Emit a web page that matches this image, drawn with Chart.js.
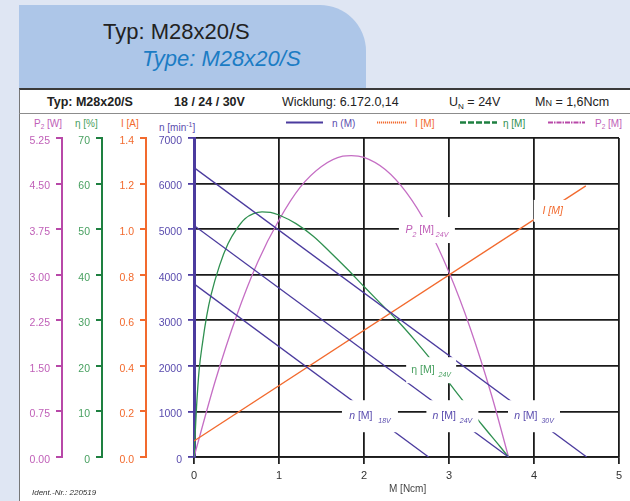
<!DOCTYPE html>
<html>
<head>
<meta charset="utf-8">
<script src="https://cdn.jsdelivr.net/npm/chart.js@4.4.1/dist/chart.umd.min.js"></script>
<style>
html, body { margin: 0; padding: 0; }
body { width: 630px; height: 501px; overflow: hidden; background: #dfe6f3; position: relative;
  font-family: "Liberation Sans", Arial, sans-serif; }
.abs { position: absolute; white-space: nowrap; }
#tab { left: 19px; top: 5px; width: 347px; height: 90px; background: #adc6e8; border-top-right-radius: 46px; }
#panel { left: 19px; top: 88px; width: 620px; height: 420px; background: #fff; border-top: 2px solid #3a3a3a; border-left: 1px solid #777; }
#sep { left: 19px; top: 113px; width: 620px; height: 1px; background: #8c8c8c; }
.t1 { left: 103px; top: 21px; font-size: 22px; line-height: 22px; color: #222; }
.t2 { left: 142px; top: 48px; font-size: 22px; line-height: 22px; color: #1b7cc4; font-style: italic; }
.h { top: 95px; font-size: 12.5px; line-height: 14px; color: #222; }
.b { font-weight: bold; }
.lg { top: 118px; font-size: 10px; line-height: 12px; }
.ax { top: 118px; font-size: 10px; line-height: 12px; }
sub { font-size: 0.65em; vertical-align: -0.35em; line-height: 0; }
canvas { position: absolute; left: 20px; top: 115px; }
</style>
</head>
<body>
<div id="tab" class="abs"></div>
<div class="abs t1">Typ: M28x20/S</div>
<div class="abs t2">Type: M28x20/S</div>
<div id="panel" class="abs"></div>
<div id="sep" class="abs"></div>

<div class="abs h b" style="left:47px">Typ: M28x20/S</div>
<div class="abs h b" style="left:174px">18 / 24 / 30V</div>
<div class="abs h" style="left:282px">Wicklung: 6.172.0,14</div>
<div class="abs h" style="left:449px">U<sub>N</sub> = 24V</div>
<div class="abs h" style="left:535px">M<span style="font-size:9px">N</span> = 1,6Ncm</div>

<svg class="abs" style="left:286px;top:120px" width="37" height="5"><line x1="0" y1="2.5" x2="37" y2="2.5" stroke="#4b3b9e" stroke-width="2"/></svg>
<div class="abs lg" style="left:332px;color:#5a4cae">n (M)</div>
<svg class="abs" style="left:377px;top:120px" width="30" height="5"><line x1="0" y1="2.5" x2="30" y2="2.5" stroke="#f26a2e" stroke-width="2" stroke-dasharray="1.2 0.8"/></svg>
<div class="abs lg" style="left:415px;color:#f26a2e">I [M]</div>
<svg class="abs" style="left:460px;top:120px" width="37" height="5"><line x1="0" y1="2.5" x2="37" y2="2.5" stroke="#1e8040" stroke-width="2.5" stroke-dasharray="6 2"/></svg>
<div class="abs lg" style="left:503px;color:#2f9050">η [M]</div>
<svg class="abs" style="left:548px;top:120px" width="37" height="5"><line x1="0" y1="2.5" x2="37" y2="2.5" stroke="#b848a8" stroke-width="2" stroke-dasharray="5 1 1.5 1"/></svg>
<div class="abs lg" style="left:595px;color:#c060b8">P<sub>2</sub> [M]</div>

<div class="abs ax" style="left:34px;color:#c060b8">P<sub>2</sub> [W]</div>
<div class="abs ax" style="left:75px;color:#48a060">η [%]</div>
<div class="abs ax" style="left:121px;color:#f26a2e">I [A]</div>
<div class="abs ax" style="left:159px;top:119px;color:#5a4cae">n [min<sup style="font-size:7px">-1</sup>]</div>

<canvas id="chart" width="610" height="386"></canvas>

<div class="abs" style="left:389px;top:483px;font-size:10px;line-height:12px;color:#444">M [Ncm]</div>
<div class="abs" style="left:32px;top:488px;font-size:8px;line-height:10px;color:#333;font-style:italic">Ident.-Nr.: 220519</div>

<script>
// tick labels
const xTicks = [0, 1, 2, 3, 4, 5];
const nTicks = [0, 1000, 2000, 3000, 4000, 5000, 6000, 7000];
const iTicks = [0, 0.2, 0.4, 0.6, 0.8, 1.0, 1.2, 1.4];
const etaTicks = [0, 10, 20, 30, 40, 50, 60, 70];
const p2Ticks = [0, 0.75, 1.5, 2.25, 3.0, 3.75, 4.5, 5.25];

// speed lines n(M) for 18 / 24 / 30 V
const n18M = [0, 2.76];
const n18 = [3800, 0];
const n24M = [0, 3.7];
const n24 = [5080, 0];
const n30M = [0, 4.62];
const n30 = [6350, 0];

// current I(M)
const curM = [0, 4.61];
const cur = [0.07, 1.19];

// efficiency 24V
const etaM = [0, 0.03, 0.06, 0.1, 0.15, 0.2, 0.3, 0.4, 0.5, 0.6, 0.7, 0.8, 0.9, 1.0, 1.2, 1.4, 1.6, 1.8, 2.0, 2.2, 2.4, 2.6, 2.8, 3.0, 3.2, 3.4, 3.6, 3.7];
const eta = [0, 11, 19, 25, 31, 35.5, 42, 46.8, 50, 52.3, 53.4, 53.8, 53.7, 53.1, 51.2, 48.5, 45, 41.3, 37.4, 33.6, 29.8, 25.6, 21.1, 16.3, 11.5, 6.8, 2.3, 0];

// output power 24V
const p2M = [0, 0.25, 0.5, 0.75, 1.0, 1.25, 1.5, 1.75, 1.85, 2.0, 2.25, 2.5, 2.75, 3.0, 3.25, 3.5, 3.7];
const p2 = [0, 1.25, 2.32, 3.21, 3.9, 4.44, 4.78, 4.95, 4.96, 4.93, 4.73, 4.35, 3.79, 3.04, 2.12, 1.02, 0];

const NC = '#4b3b9e', NL = '#5a4cae';
const IC = '#f26a2e';
const EC = '#1e8040', ECL = '#2f9050', EL = '#48a060';
const PC = '#b848a8', PCL = '#c56ec4', PL = '#c060b8';

const pts = (xs, ys) => xs.map((x, i) => ({ x: x, y: ys[i] }));

// in-plot labels with white boxes
const labels = [
  { m: 2.74, v: 4980, w: 56, h: 26, color: PL, parts: [['P', 0, 1], ['2', 1, 1], [' [M]', 0, 0], [' 24V', 1, 1]] },
  { m: 2.79, v: 1905, w: 50, h: 26, color: EL, parts: [['η [M]', 0, 0], ['  24V', 1, 1]] },
  { m: 2.07, v: 895, w: 56, h: 32, color: NL, parts: [['n', 0, 1], [' [M]', 0, 0], ['   18V', 1, 1]] },
  { m: 3.04, v: 895, w: 52, h: 32, color: NL, parts: [['n', 0, 1], [' [M]', 0, 0], ['  24V', 1, 1]] },
  { m: 4.0, v: 895, w: 52, h: 32, color: NL, parts: [['n', 0, 1], [' [M]', 0, 0], ['  30V', 1, 1]] },
  { m: 4.22, v: 5400, w: 38, h: 22, color: IC, parts: [['I [M]', 0, 1]] }
];

const labelPlugin = {
  id: 'boxLabels',
  afterDatasetsDraw(chart) {
    const ctx = chart.ctx;
    const xs = chart.scales.x, ys = chart.scales.yN;
    const fam = '"Liberation Sans", Arial, sans-serif';
    labels.forEach(l => {
      const cx = xs.getPixelForValue(l.m), cy = ys.getPixelForValue(l.v);
      ctx.save();
      ctx.fillStyle = '#fff';
      ctx.fillRect(cx - l.w / 2, cy - l.h / 2, l.w, l.h);
      const fontOf = p => (p[2] ? 'italic ' : '') + (p[1] ? '7px ' : '10.5px ') + fam;
      let total = 0;
      l.parts.forEach(p => { ctx.font = fontOf(p); total += ctx.measureText(p[0]).width; });
      let px = cx - total / 2;
      ctx.fillStyle = l.color;
      ctx.textBaseline = 'alphabetic';
      l.parts.forEach(p => {
        ctx.font = fontOf(p);
        ctx.fillText(p[0], px, cy + 3 + (p[1] ? 4 : 0));
        px += ctx.measureText(p[0]).width;
      });
      ctx.restore();
    });
  }
};

const tickFont = { family: '"Liberation Sans", Arial, sans-serif', size: 10.5 };

const sideAxis = (weight, ticks, color, labelColor, width, fmt) => ({
  position: 'left',
  weight: weight,
  min: 0,
  max: ticks[ticks.length - 1],
  afterBuildTicks: s => { s.ticks = ticks.map(v => ({ value: v })); },
  afterFit: s => { s.width = width; },
  grid: { drawOnChartArea: false, tickLength: 6, tickColor: color, lineWidth: 2, color: color },
  border: { color: color, width: 2 },
  ticks: { color: labelColor, font: tickFont, padding: 6, labelOffset: 3, callback: fmt }
});

new Chart(document.getElementById('chart'), {
  type: 'line',
  data: {
    datasets: [
      { data: pts(n18M, n18), yAxisID: 'yN', borderColor: NC, borderWidth: 1.3, pointRadius: 0 },
      { data: pts(n24M, n24), yAxisID: 'yN', borderColor: NC, borderWidth: 1.3, pointRadius: 0 },
      { data: pts(n30M, n30), yAxisID: 'yN', borderColor: NC, borderWidth: 1.3, pointRadius: 0 },
      { data: pts(curM, cur), yAxisID: 'yI', borderColor: IC, borderWidth: 1.3, pointRadius: 0 },
      { data: pts(etaM, eta), yAxisID: 'yEta', borderColor: ECL, borderWidth: 1.3, pointRadius: 0, cubicInterpolationMode: 'monotone' },
      { data: pts(p2M, p2), yAxisID: 'yP', borderColor: PCL, borderWidth: 1.3, pointRadius: 0, cubicInterpolationMode: 'monotone' }
    ]
  },
  options: {
    responsive: false,
    devicePixelRatio: 1,
    animation: false,
    layout: { padding: { top: 23, right: 11, bottom: 0, left: 0 } },
    plugins: { legend: { display: false }, tooltip: { enabled: false } },
    scales: {
      x: {
        type: 'linear',
        min: 0,
        max: 5,
        afterBuildTicks: s => { s.ticks = xTicks.map(v => ({ value: v })); },
        afterFit: s => { s.height = 44; },
        grid: { color: c => c.index === 0 ? 'rgba(0,0,0,0)' : '#1a1a1a', tickColor: '#222', lineWidth: 1.8, tickLength: 7 },
        border: { color: '#1a1a1a', width: 1.8 },
        ticks: { color: '#333', font: { family: '"Liberation Sans", Arial, sans-serif', size: 11 }, padding: 5 }
      },
      yN: {
        position: 'left',
        weight: 0,
        min: 0,
        max: 7000,
        afterBuildTicks: s => { s.ticks = nTicks.map(v => ({ value: v })); },
        afterFit: s => { s.width = 48; },
        grid: { color: '#1a1a1a', lineWidth: 1.8, tickLength: 6, tickColor: NC },
        border: { color: NC, width: 3 },
        ticks: { color: NL, font: tickFont, padding: 6, labelOffset: 3, callback: v => String(v) }
      },
      yI: sideAxis(1, iTicks, IC, IC, 44, v => v.toFixed(1)),
      yEta: sideAxis(2, etaTicks, EC, EL, 40, v => String(v)),
      yP: sideAxis(3, p2Ticks, PC, PL, 42, v => v.toFixed(2))
    }
  },
  plugins: [labelPlugin]
});
</script>
</body>
</html>
